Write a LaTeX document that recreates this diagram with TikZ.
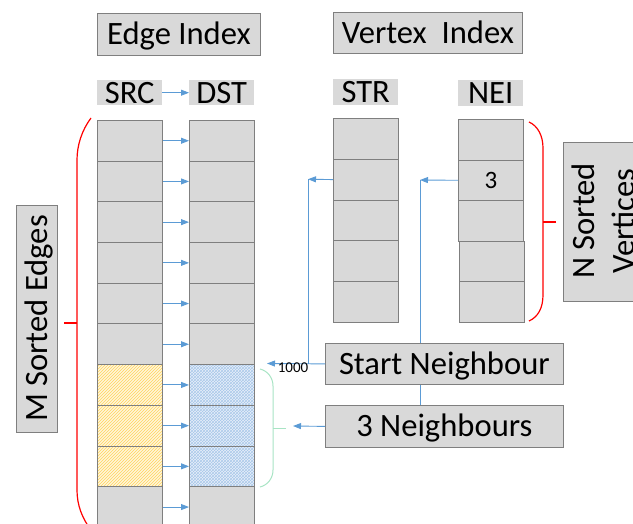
\documentclass[tikz,border=0pt]{standalone}
\usepackage{fontspec}
\setmainfont{Carlito}
\usetikzlibrary{arrows.meta,patterns}
\definecolor{cellfill}{HTML}{D9D9D9}
\definecolor{cellline}{HTML}{7F7F7F}
\definecolor{arrblue}{HTML}{5B9BD5}
\definecolor{bracered}{HTML}{FF0000}
\definecolor{bracegreen}{HTML}{A8E4C4}
\definecolor{hatchyellow}{HTML}{FFD35C}
\definecolor{lightyellow}{HTML}{FFF6DA}
\definecolor{hatchblue}{HTML}{A9C8EA}
\definecolor{lightblue}{HTML}{E8F0FA}
\newcommand\bigfont{\fontsize{32.6}{40}\selectfont}
\begin{document}
\begin{tikzpicture}[x=1pt,y=-1pt,
  cell/.style={draw=cellline, fill=cellfill, line width=0.8pt, minimum width=65pt, inner sep=0pt, anchor=north west,
    font=\fontsize{25}{30}\selectfont, text height=16pt, text depth=0pt},
  ysrc/.style={draw=cellline, line width=0.8pt, minimum width=65pt, inner sep=0pt, anchor=north west,
    preaction={fill=lightyellow}, pattern=north east lines, pattern color=hatchyellow},
  bdst/.style={draw=cellline, line width=0.8pt, minimum width=65pt, inner sep=0pt, anchor=north west,
    preaction={fill=lightblue}, pattern=crosshatch, pattern color=hatchblue},
  tagbox/.style={fill=cellfill, inner sep=0pt, anchor=north west, minimum width=65pt, minimum height=25pt,
    font=\bigfont, text height=21pt, text depth=0pt},
  titlebox/.style={draw=cellline, fill=cellfill, line width=0.8pt, inner sep=0pt, anchor=north west,
    font=\bigfont, text height=21pt, text depth=0pt},
  arr/.style={draw=arrblue, line width=0.9pt, -{Triangle[length=8pt,width=6pt]}},
  conn/.style={draw=arrblue, line width=0.9pt},
  redbrace/.style={draw=bracered, line width=1.2pt},
  greenbrace/.style={draw=bracegreen, line width=1pt}]
\useasboundingbox (0,0) rectangle (633,524);
\clip (0,0) rectangle (633,524);

% titles
\node[titlebox, minimum width=163pt, minimum height=42pt] (edgeidx) at (97,13) {Edge Index};
\node[titlebox, minimum width=189pt, minimum height=41pt] (vertidx) at (333,12) {Vertex\ \ Index};
\node[tagbox] (srct) at (97,80) {SRC};
\node[tagbox] (dstt) at (189,80) {DST};
\node[tagbox, minimum height=26pt] (strt) at (333,79) {STR};
\node[tagbox, minimum height=26pt] (neit) at (458,80) {NEI};
\draw[arr] (srct.east) -- (dstt.west);

% edge index columns
\foreach \i/\ss/\ds in {1/cell/cell,2/cell/cell,3/cell/cell,4/cell/cell,5/cell/cell,6/cell/cell,
                        7/ysrc/bdst,8/ysrc/bdst,9/ysrc/bdst,10/cell/cell} {
  \pgfmathsetmacro\yy{120+40.7*(\i-1)}
  \node[\ss, minimum height=40.7pt] (s\i) at (97,\yy) {};
  \node[\ds, minimum height=40.7pt] (d\i) at (189,\yy) {};
  \draw[arr] (s\i.east) -- (d\i.west);
}

% vertex index columns
\foreach \i in {1,...,5} {
  \pgfmathsetmacro\yy{118+40.8*(\i-1)}
  \node[cell, minimum height=40.8pt] (str\i) at (333,\yy) {};
}
\node[cell, minimum height=40.6pt] (nei1) at (458,119) {};
\node[cell, minimum height=40.6pt] (nei2) at (458,159.6) {3};
\node[cell, minimum height=40.6pt] (nei3) at (458,200.2) {};
\node[cell, minimum height=40.6pt] (nei4) at (459,240.8) {};
\node[cell, minimum height=40.6pt] (nei5) at (459,281.4) {};

% labels
\node[titlebox, minimum height=41pt, minimum width=238pt] (sn) at (325,343) {Start Neighbour};
\node[titlebox, minimum height=42pt, minimum width=238pt] (tn) at (325,405) {3 Neighbours};
\node[titlebox, rotate=90, anchor=center, minimum width=227pt, minimum height=41pt] (mse) at (36.5,318.5) {M Sorted Edges};
\path[fill=cellfill, draw=cellline, line width=0.8pt] (563,142) rectangle (690,301);
\node[font=\bigfont, rotate=90, align=center, inner sep=0pt] (nsv) at (603,221) {N Sorted\\Vertices};

% connectors
\coordinate (p1) at (308,179.2);
\coordinate (p0) at (267,363.5);
\coordinate (p2) at (420,180);
\coordinate (p3) at (293,426);
\draw[arr] (str2.west) -- (p1);
\draw[conn] (sn.west -| p1) -- (p1);
\draw[arr] (sn.west) -- (p0);
\node[font=\fontsize{15}{18}\selectfont, text height=9.5pt, text depth=0pt, inner sep=0pt] (lbl) at (293,368) {1000};
\draw[arr] (nei2.west) -- (p2);
\draw[conn] (p2) -- (p2 |- sn.north);
\draw[conn] (p2 |- sn.south) -- (p2 |- tn.north);
\draw[arr] (tn.west) -- (p3);

% braces
\draw[redbrace] (91,118) .. controls (82,130) and (77,145) .. (77,160) -- (77,490) .. controls (77,505) and (82,518) .. (91,530);
\coordinate (lt) at (64,323);
\draw[redbrace] (lt) -- (77,323);
\draw[redbrace] (529,122) .. controls (538,126) and (543,136) .. (543,148) -- (543,295) .. controls (543,308) and (538,317) .. (529,321);
\coordinate (rt) at (556,222);
\draw[redbrace] (rt) -- (543,222);
\draw[greenbrace] (260,369) .. controls (268,371) and (273,378) .. (273,386) -- (273,470) .. controls (273,478) and (268,485) .. (260,487);
\coordinate (gt) at (286,428);
\draw[greenbrace] (gt) -- (273,428);
\end{tikzpicture}
\end{document}
